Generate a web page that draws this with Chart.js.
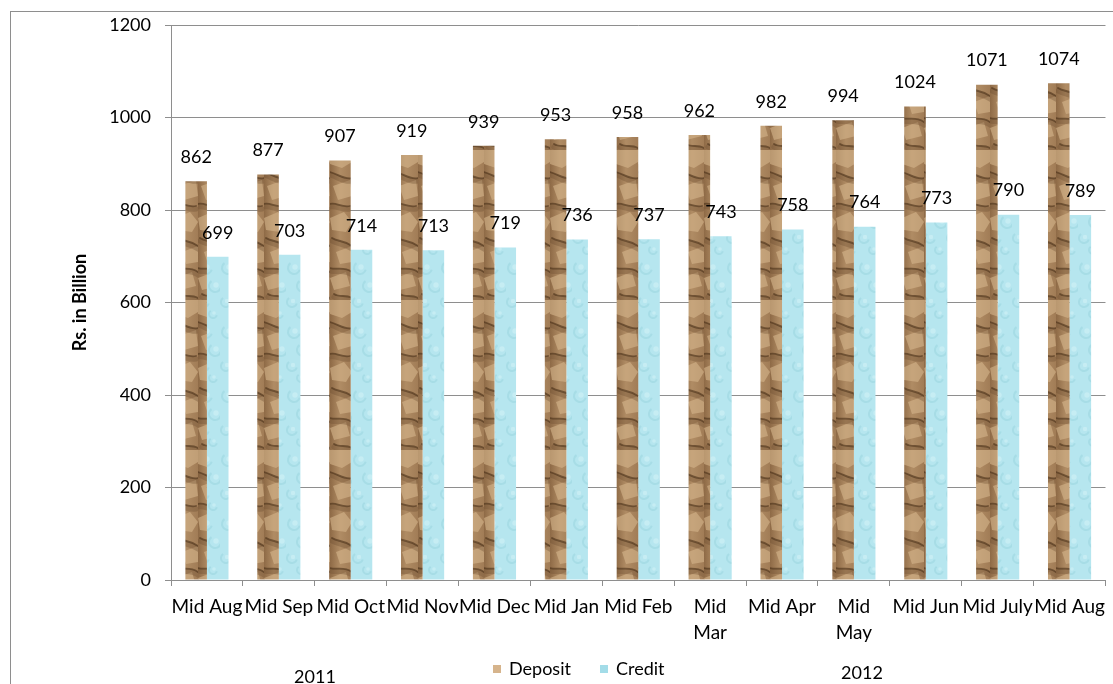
<!DOCTYPE html>
<html><head><meta charset="utf-8">
<script src="https://cdn.jsdelivr.net/npm/chart.js@4.4.0/dist/chart.umd.min.js"></script>
<style>html,body{margin:0;padding:0;background:#fff;overflow:hidden}#wrap{width:1113px;height:684px;position:relative}</style>
</head><body><div id="wrap"><canvas id="c" width="1113" height="684"></canvas></div>
<script>
const categories = ['Mid Aug','Mid Sep','Mid Oct','Mid Nov','Mid Dec','Mid Jan','Mid Feb',['Mid','Mar'],'Mid Apr',['Mid','May'],'Mid Jun','Mid July','Mid Aug'];
const depositValues = [862,877,907,919,939,953,958,962,982,994,1024,1071,1074];
const creditValues = [699,703,714,713,719,736,737,743,758,764,773,790,789];
const seriesNames = ['Deposit','Credit'];
const yTicks = {min:0, max:1200, step:200};
const yTitle = 'Rs. in Billion';
const yearLabels = [{text:'2011', x:315, y:677},{text:'2012', x:862, y:673}];

const FONT = 'Lato, "Open Sans", sans-serif';
const GRAY = '#8e8e8e';

function depositPattern(ctx){
  const W = 22, H = 150;
  const c = document.createElement('canvas'); c.width = W; c.height = H;
  const g = c.getContext('2d');
  const grd = g.createLinearGradient(0,0,W,0);
  grd.addColorStop(0,'#8e6a46'); grd.addColorStop(0.45,'#b08c64'); grd.addColorStop(1,'#a17c56');
  g.fillStyle = grd; g.fillRect(0,0,W,H);
  const plates = [
    [[0,0],[22,0],[22,12],[12,18],[0,14]],
    [[3,36],[20,30],[22,46],[8,50]],
    [[0,68],[14,62],[22,72],[16,82],[2,80]],
    [[6,102],[22,96],[22,112],[10,114]],
    [[0,128],[16,122],[20,136],[4,140]]
  ];
  g.fillStyle = 'rgba(214,182,140,0.6)';
  plates.forEach(p=>{g.beginPath();g.moveTo(p[0][0],p[0][1]);p.slice(1).forEach(q=>g.lineTo(q[0],q[1]));g.closePath();g.fill();});
  const creases = [
    [0,22,8,24,14,30,22,28],[0,54,6,52,12,58,20,56],[2,88,8,92,14,90,22,96],
    [0,118,8,120,14,116,22,122],[4,144,10,148,16,144,22,148]
  ];
  g.strokeStyle = 'rgba(110,78,48,0.35)'; g.lineWidth = 5; g.lineCap='round';
  creases.forEach(s=>{g.beginPath();g.moveTo(s[0],s[1]+3);g.bezierCurveTo(s[2],s[3]+3,s[4],s[5]+3,s[6],s[7]+3);g.stroke();});
  g.strokeStyle = 'rgba(72,46,24,0.6)'; g.lineWidth = 1.8;
  creases.forEach(s=>{g.beginPath();g.moveTo(s[0],s[1]);g.bezierCurveTo(s[2],s[3],s[4],s[5],s[6],s[7]);g.stroke();});
  return ctx.createPattern(c,'repeat');
}
function creditPattern(ctx){
  const W = 22, H = 64;
  const c = document.createElement('canvas'); c.width = W; c.height = H;
  const g = c.getContext('2d');
  g.fillStyle = '#b6e6ef'; g.fillRect(0,0,W,H);
  const arcs = [[8,12,6],[17,30,6],[6,46,5],[15,58,4]];
  arcs.forEach(s=>{
    g.strokeStyle='rgba(140,202,216,0.35)'; g.lineWidth=2;
    g.beginPath(); g.arc(s[0],s[1],s[2],0.3,Math.PI*1.3); g.stroke();
    g.fillStyle='rgba(228,248,252,0.35)'; g.beginPath(); g.arc(s[0]+1,s[1]-1,s[2]*0.45,0,Math.PI*2); g.fill();
  });
  return ctx.createPattern(c,'repeat');
}

const canvas = document.getElementById('c');
const ctx = canvas.getContext('2d');
const depFill = depositPattern(ctx);
const credFill = creditPattern(ctx);
const legendSwatch = ['#d6b48c','#a3dce8'];

const extras = {
  id:'extras',
  afterDatasetsDraw(chart){
    const c = chart.ctx;
    c.save();
    c.font = '18px ' + FONT; c.fillStyle = '#000'; c.textAlign = 'center'; c.textBaseline = 'middle';
    chart.data.datasets.forEach((ds,i)=>{
      chart.getDatasetMeta(i).data.forEach((el,j)=>{
        c.fillText(String(ds.data[j]), el.x, el.y - 24);
      });
    });
    c.restore();
  },
  afterDraw(chart){
    const c = chart.ctx;
    c.save();
    c.strokeStyle = GRAY; c.lineWidth = 1;
    c.strokeRect(10.5, 11.5, 2000, 2000);
    c.font = '18px ' + FONT; c.fillStyle = '#000'; c.textBaseline = 'middle'; c.textAlign = 'center';
    yearLabels.forEach(l=>c.fillText(l.text, l.x, l.y));
    let x = 493; const y = 669;
    c.textAlign = 'left';
    chart.data.datasets.forEach((ds,i)=>{
      c.fillStyle = legendSwatch[i]; c.fillRect(x, y-4, 8, 8);
      c.fillStyle = '#000'; c.fillText(ds.label, x+16, y);
      x += 107;
    });
    c.restore();
  }
};

new Chart(canvas, {
  type:'bar',
  data:{
    labels: categories,
    datasets:[
      {label: seriesNames[0], data: depositValues, backgroundColor: depFill, categoryPercentage:0.6, barPercentage:1.0},
      {label: seriesNames[1], data: creditValues, backgroundColor: credFill, categoryPercentage:0.6, barPercentage:1.0}
    ]
  },
  options:{
    responsive:false, animation:false, devicePixelRatio:1,
    layout:{padding:{top:25,right:3,left:0,bottom:0}},
    plugins:{legend:{display:false}, tooltip:{enabled:false}},
    scales:{
      x:{
        offset:true,
        grid:{offset:true, drawOnChartArea:false, drawTicks:true, tickLength:6, color:GRAY},
        border:{display:true, color:GRAY},
        ticks:{autoSkip:false, maxRotation:0, minRotation:0, padding:8, color:'#000', font:{family:FONT, size:19, lineHeight:1.35}},
        afterFit(s){ s.height = 104; }
      },
      y:{
        min:yTicks.min, max:yTicks.max,
        grid:{color:GRAY, tickLength:6, drawTicks:true},
        border:{display:true, color:GRAY},
        ticks:{stepSize:yTicks.step, padding:14, color:'#000', font:{family:FONT, size:18}, callback:(v)=>String(v)},
        title:{display:true, text:yTitle, color:'#000', font:{family:FONT, size:18, weight:'bold'}, padding:{top:69,bottom:0}},
        afterFit(s){ s.width = 171; }
      }
    }
  },
  plugins:[extras]
});
</script></body></html>
